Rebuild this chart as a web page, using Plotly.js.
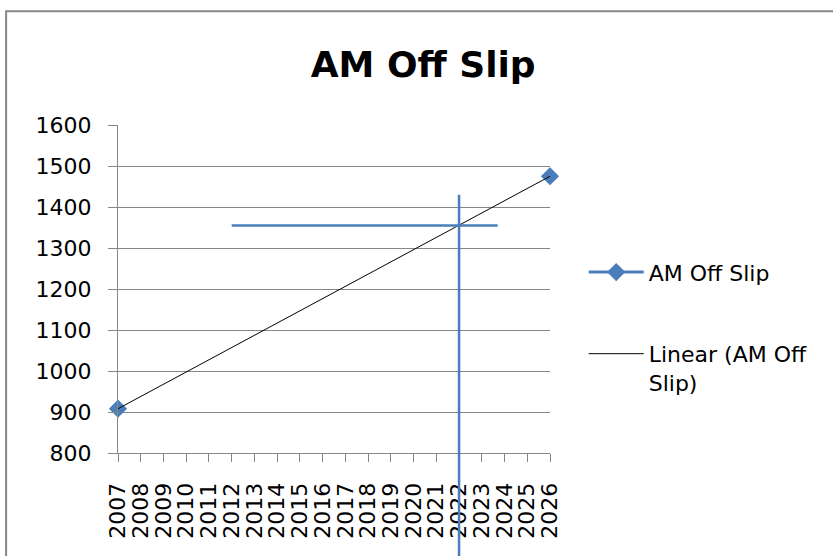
<!DOCTYPE html>
<html>
<head>
<meta charset="utf-8">
<script src="https://cdn.plot.ly/plotly-3.0.1.min.js"></script>
<style>html,body{margin:0;padding:0;background:#fff;}#chart{width:833px;height:556px;}</style>
</head>
<body>
<div id="chart"></div>
<script>
const years = [2007,2008,2009,2010,2011,2012,2013,2014,2015,2016,2017,2018,2019,2020,2021,2022,2023,2024,2025,2026];
const amOffSlip = [908,null,null,null,null,null,null,null,null,null,null,null,null,null,null,null,null,null,null,1475];
const yTicks = [800,900,1000,1100,1200,1300,1400,1500,1600];
const refValue = 1355;        // horizontal marker value
const refLineFrom = 2012;     // horizontal marker start year
const refLineTo = 2023.7;     // horizontal marker end year
const refYear = 2022;         // vertical marker year

// linear trend (least squares) of the existing points
const pts = years.map((y,i)=>[y,amOffSlip[i]]).filter(p=>p[1]!==null);
const n = pts.length;
const mx = pts.reduce((s,p)=>s+p[0],0)/n, my = pts.reduce((s,p)=>s+p[1],0)/n;
const slope = pts.reduce((s,p)=>s+(p[0]-mx)*(p[1]-my),0)/pts.reduce((s,p)=>s+(p[0]-mx)**2,0);
const icpt = my - slope*mx;
const trendX = [years[0], years[years.length-1]];
const trendY = trendX.map(x=>icpt+slope*x);

const blue = '#4A7EBB';
const font = '"DejaVu Sans", sans-serif';

const traces = [
  {x: years, y: amOffSlip, type:'scatter', mode:'lines+markers', name:'AM Off Slip',
   connectgaps:false, cliponaxis:false, legendgroup:'a',
   line:{color:blue, width:3}, marker:{symbol:'diamond', size:14, color:blue}},
  {x: trendX, y: trendY, type:'scatter', mode:'lines', name:'Linear (AM Off<br>Slip)',
   cliponaxis:false, legendgroup:'b', line:{color:'#000', width:1}}
];

const layout = {
  width:833, height:556,
  margin:{l:118, r:283, t:125, b:103},
  paper_bgcolor:'#fff', plot_bgcolor:'#fff',
  font:{family:font, color:'#000', size:22},
  title:{text:'<b>AM Off Slip</b>', font:{family:font, size:36, color:'#000'}, x:0.508, xanchor:'center', y:0.885, yanchor:'middle'},
  showlegend:true,
  legend:{x:1.078, xanchor:'left', y:0.615, yanchor:'top', traceorder:'grouped', tracegroupgap:50, valign:'top',
          font:{family:font, size:22, color:'#000'}, itemwidth:55, bgcolor:'rgba(0,0,0,0)'},
  xaxis:{range:[years[0], years[years.length-1]], tickmode:'array', tickvals:years, ticktext:years.map(String),
         tickangle:-90, ticks:'outside', ticklen:8, tickcolor:'#868686', showgrid:false,
         showline:true, linecolor:'#868686', linewidth:1, zeroline:false, fixedrange:true,
         ticklabelstandoff:12, tickfont:{family:font, size:22, color:'#000'}},
  yaxis:{range:[800,1600], tickmode:'array', tickvals:yTicks, ticks:'outside', ticklen:9, tickcolor:'#868686',
         showgrid:true, gridcolor:'#868686', gridwidth:1, showline:true, linecolor:'#868686', linewidth:1,
         zeroline:false, ticklabelstandoff:12, tickfont:{family:font, size:22, color:'#000'}},
  shapes:[
    {type:'line', xref:'x', yref:'y', x0:refLineFrom, x1:refLineTo, y0:refValue, y1:refValue,
     line:{color:blue, width:2.5}},
    {type:'line', xref:'x', yref:'paper', x0:refYear, x1:refYear, y0:-0.32, y1:0.787,
     line:{color:blue, width:2.5}},
    {type:'rect', xref:'paper', yref:'paper', x0:-0.259, x1:1.7, y0:-0.5, y1:1.347,
     line:{color:'#868686', width:2}, fillcolor:'rgba(0,0,0,0)', layer:'below'}
  ]
};

Plotly.newPlot('chart', traces, layout, {displayModeBar:false, staticPlot:true});
</script>
</body>
</html>
